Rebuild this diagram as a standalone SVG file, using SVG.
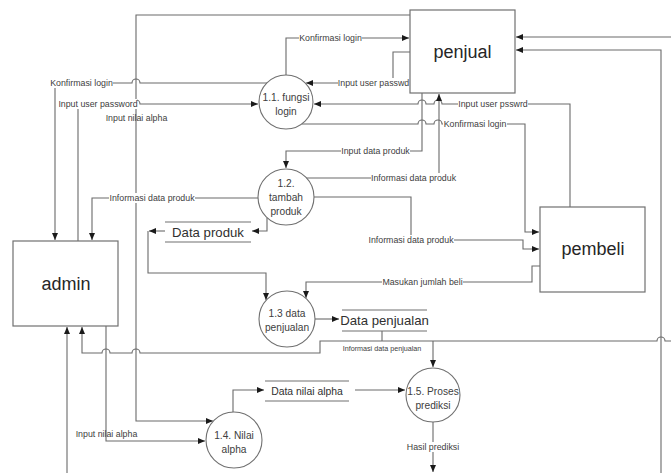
<svg xmlns="http://www.w3.org/2000/svg" width="671" height="473" viewBox="0 0 671 473">
<style>
.box{fill:#fff;stroke:#707070;stroke-width:1.2}
.proc{fill:#fff;stroke:#707070;stroke-width:1.1}
.ln{fill:none;stroke:#6a6a6a;stroke-width:1.1}
.st{fill:none;stroke:#707070;stroke-width:1.2}
.big{font-family:"Liberation Sans",Arial,sans-serif;font-size:18px;fill:#262626;text-anchor:middle}
.pt{font-family:"Liberation Sans",Arial,sans-serif;font-size:10.2px;fill:#404040;text-anchor:middle}
.ds{font-family:"Liberation Sans",Arial,sans-serif;font-size:13.2px;fill:#303030;text-anchor:middle}
.lb{font-family:"Liberation Sans",Arial,sans-serif;font-size:8.8px;fill:#404040;text-anchor:middle}
.bg{fill:#fff}
</style>
<defs>
<marker id="ah" markerUnits="userSpaceOnUse" markerWidth="7" markerHeight="6" refX="7" refY="3" orient="auto">
<path d="M0,0 L7,3 L0,6 z" fill="#1a1a1a"/>
</marker>
</defs>
<rect width="671" height="473" fill="#fff"/>

<g id="connectors">
<path class="ln" d="M410,15 H136 V421 H213" marker-end="url(#ah)"/>
<path class="ln" d="M286,75 V38 H409" marker-end="url(#ah)"/>
<path class="ln" d="M410,52 H393 V83 H306" marker-end="url(#ah)"/>
<path class="ln" d="M267,83 H140 a4,4 0 0 0 -8,0 H55 V240" marker-end="url(#ah)"/>
<path class="ln" d="M78,241 V104 H132 a4,4 0 0 1 8,0 H258" marker-end="url(#ah)"/>
<path class="ln" d="M570,207 V104 H442 a4,4 0 0 0 -8,0 H426 a4,4 0 0 0 -8,0 H314" marker-end="url(#ah)"/>
<path class="ln" d="M302,124 H418 a4,4 0 0 1 8,0 H434 a4,4 0 0 1 8,0 H525 V232 H539" marker-end="url(#ah)"/>
<path class="ln" d="M422,93 V151 H286 V168" marker-end="url(#ah)"/>
<path class="ln" d="M306,178 H439 V94" marker-end="url(#ah)"/>
<path class="ln" d="M671,37 H516" marker-end="url(#ah)"/>
<path class="ln" d="M661,473 V50 H516" marker-end="url(#ah)"/>
<path class="ln" d="M258,198 H140 a4,4 0 0 0 -8,0 H92 V240" marker-end="url(#ah)"/>
<path class="ln" d="M267,218 V231 H252" marker-end="url(#ah)"/>
<path class="ln" d="M165,231 H149" marker-end="url(#ah)"/>
<path class="ln" d="M148,231 V273 H266 V300" marker-end="url(#ah)"/>
<path class="ln" d="M314,197 H411 V240 H523 V249 H539" marker-end="url(#ah)"/>
<path class="ln" d="M540,266 H532 V282 H306 V298" marker-end="url(#ah)"/>
<path class="ln" d="M315,319 H339" marker-end="url(#ah)"/>
<path class="ln" d="M382,331 V341"/>
<path class="ln" d="M671,341 H665 a4,4 0 0 0 -8,0 H320 V353 H140 a4,4 0 0 0 -8,0 H110 a4,4 0 0 0 -8,0 H82 V327" marker-end="url(#ah)"/>
<path class="ln" d="M433,341 V367" marker-end="url(#ah)"/>
<path class="ln" d="M433,422 V472" marker-end="url(#ah)"/>
<path class="ln" d="M233,412 V390 H264" marker-end="url(#ah)"/>
<path class="ln" d="M355,390 H405" marker-end="url(#ah)"/>
<path class="ln" d="M106,326 V441 H205" marker-end="url(#ah)"/>
<path class="ln" d="M67,473 V327" marker-end="url(#ah)"/>

<rect class="bg" x="299" y="33" width="63" height="10"/>
<text class="lb" x="330.5" y="41">Konfirmasi login</text>
<rect class="bg" x="338" y="78" width="72" height="10"/>
<text class="lb" x="373.5" y="86">Input user passwd</text>
<rect class="bg" x="50" y="78" width="63" height="10"/>
<text class="lb" x="81.5" y="86">Konfirmasi login</text>
<rect class="bg" x="58" y="99" width="79" height="10"/>
<text class="lb" x="98" y="107">Input user password</text>
<text class="lb" x="136.5" y="121">Input nilai alpha</text>
<rect class="bg" x="458" y="99" width="70" height="10"/>
<text class="lb" x="493" y="107">Input user psswrd</text>
<rect class="bg" x="443" y="119" width="64" height="10"/>
<text class="lb" x="475" y="127">Konfirmasi login</text>
<rect class="bg" x="341" y="146" width="69" height="10"/>
<text class="lb" x="375.5" y="154">Input data produk</text>
<rect class="bg" x="371" y="173" width="86" height="10"/>
<text class="lb" x="413.5" y="181">Informasi data produk</text>
<rect class="bg" x="109" y="193" width="86" height="10"/>
<text class="lb" x="152" y="201">Informasi data produk</text>
<rect class="bg" x="368" y="235" width="86" height="10"/>
<text class="lb" x="411" y="243">Informasi data produk</text>
<rect class="bg" x="382" y="277" width="81" height="10"/>
<text class="lb" x="422.5" y="285">Masukan jumlah beli</text>
<text class="lb" x="382" y="350.5" style="font-size:7.2px">Informasi data penjualan</text>
<text class="lb" x="106.5" y="437">Input nilai alpha</text>
<rect class="bg" x="407" y="442" width="53" height="10"/>
<text class="lb" x="433" y="450">Hasil prediksi</text>
</g>

<g id="penjual">
<rect class="box" x="410" y="10" width="105" height="83"/>
<text class="big" x="462.5" y="58">penjual</text>
</g>
<g id="admin">
<rect class="box" x="13" y="241" width="105" height="85"/>
<text class="big" x="66" y="290">admin</text>
</g>
<g id="pembeli">
<rect class="box" x="540" y="207" width="105" height="85"/>
<text class="big" x="593" y="255">pembeli</text>
</g>
<g id="p1-1">
<circle class="proc" cx="286" cy="102" r="27"/>
<text class="pt" x="286" y="101">1.1. fungsi</text>
<text class="pt" x="286" y="115">login</text>
</g>
<g id="p1-2">
<circle class="proc" cx="286" cy="197" r="28"/>
<text class="pt" x="286" y="187">1.2.</text>
<text class="pt" x="286" y="201">tambah</text>
<text class="pt" x="286" y="215">produk</text>
</g>
<g id="p1-3">
<circle class="proc" cx="287" cy="319" r="28"/>
<text class="pt" x="287" y="317">1.3 data</text>
<text class="pt" x="287" y="331">penjualan</text>
</g>
<g id="p1-4">
<circle class="proc" cx="234" cy="440" r="28"/>
<text class="pt" x="234" y="439">1.4. Nilai</text>
<text class="pt" x="234" y="453">alpha</text>
</g>
<g id="p1-5">
<circle class="proc" cx="433" cy="395" r="27"/>
<text class="pt" x="433" y="395">1.5. Proses</text>
<text class="pt" x="433" y="409">prediksi</text>
</g>
<g id="ds-data-produk">
<path class="st" d="M165,222 H251 M165,242 H251"/>
<text class="ds" x="208" y="237">Data produk</text>
</g>
<g id="ds-data-penjualan">
<path class="st" d="M342,310 H427 M342,331 H427"/>
<text class="ds" x="384.5" y="325">Data penjualan</text>
</g>
<g id="ds-data-nilai-alpha">
<path class="st" d="M265,381 H349 M265,401 H349"/>
<text class="ds" x="307" y="394.5" style="font-size:10.4px">Data nilai alpha</text>
</g>
</svg>
